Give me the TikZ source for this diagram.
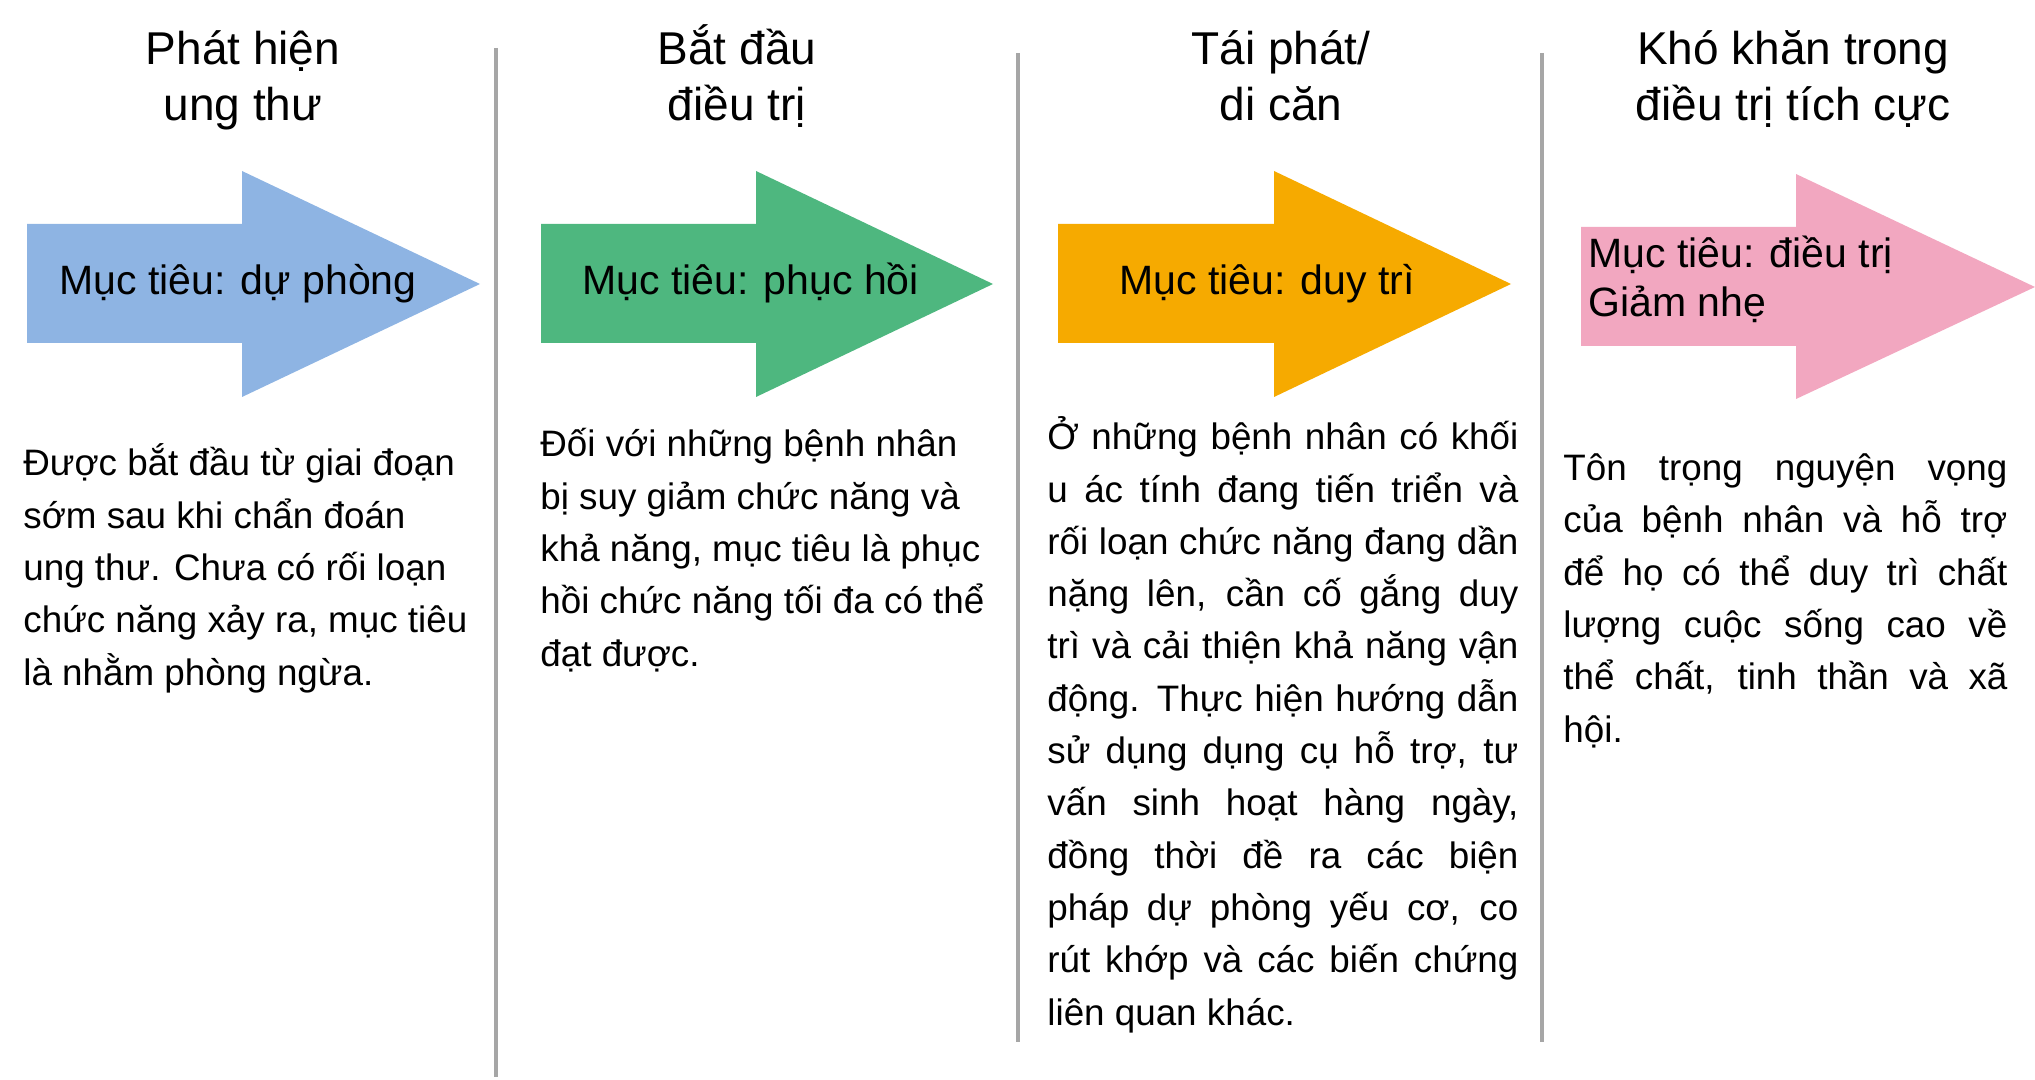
\documentclass[tikz,border=0pt]{standalone}
\usepackage{fontspec}
\setmainfont{Liberation Sans}
\definecolor{cblue}{RGB}{142,180,227}
\definecolor{cgreen}{RGB}{78,183,127}
\definecolor{corange}{RGB}{246,170,0}
\definecolor{cpink}{RGB}{242,167,192}
\definecolor{cdiv}{RGB}{166,166,166}
\newcommand\jl[2]{\makebox[#1][s]{#2}\\}
\tikzset{
  title/.style={anchor=base, align=center, inner sep=0pt, font=\fontsize{23}{28.3}\selectfont},
  goal/.style={anchor=base west, align=left, inner sep=0pt, font=\fontsize{20.5}{24.5}\selectfont},
  body/.style={anchor=base west, align=left, inner sep=0pt, font=\fontsize{18.4}{26.15}\selectfont},
  divider/.style={draw=cdiv, line width=2pt},
}
\begin{document}
\begin{tikzpicture}[x=0.5pt,y=-0.5pt]
\useasboundingbox (0,0) rectangle (2035,1080);
% dividers
\draw[divider] (496,48) -- (496,1077);
\draw[divider] (1018,53) -- (1018,1042);
\draw[divider] (1542,53) -- (1542,1042);
% titles (anchored at the baseline of their last line)
\node[title] (t1) at (243,121) {Phát hiện\\ung thư};
\node[title] (t2) at (737,121) {Bắt đầu\\điều trị};
\node[title] (t3) at (1281,121) {Tái phát/\\di căn};
\node[title] (t4) at (1793,121) {Khó khăn trong\\điều trị tích cực};
% arrows
\fill[cblue] (27,224)--(242,224)--(242,171)--(480,284)--(242,397)--(242,343)--(27,343)--cycle;
\fill[cgreen] (541,224)--(756,224)--(756,171)--(993,284)--(756,397)--(756,343)--(541,343)--cycle;
\fill[corange] (1058,224)--(1274,224)--(1274,171)--(1511,284)--(1274,397)--(1274,343)--(1058,343)--cycle;
\fill[cpink] (1581,227)--(1796,227)--(1796,174)--(2035,287)--(1796,399)--(1796,346)--(1581,346)--cycle;
\node[goal] (g1) at (59,295) {Mục tiêu: dự phòng};
\node[goal] (g2) at (582,295) {Mục tiêu: phục hồi};
\node[goal] (g3) at (1119,295) {Mục tiêu: duy trì};
\node[goal] (g4) at (1588,317) {Mục tiêu: điều trị\\Giảm nhẹ};
% body texts (anchored at the baseline of their last line)
\node[body] (b1) at (23,685) {Được bắt đầu từ giai đoạn\\sớm sau khi chẩn đoán\\ung thư. Chưa có rối loạn\\chức năng xảy ra, mục tiêu\\là nhằm phòng ngừa.};
\node[body] (b2) at (540,666) {Đối với những bệnh nhân\\bị suy giảm chức năng và\\khả năng, mục tiêu là phục\\hồi chức năng tối đa có thể\\đạt được.};
\node[body] (b3) at (1047,1025) {%
\jl{235.5pt}{Ở những bệnh nhân có khối}%
\jl{235.5pt}{u ác tính đang tiến triển và}%
\jl{235.5pt}{rối loạn chức năng đang dần}%
\jl{235.5pt}{nặng lên, cần cố gắng duy}%
\jl{235.5pt}{trì và cải thiện khả năng vận}%
\jl{235.5pt}{động. Thực hiện hướng dẫn}%
\jl{235.5pt}{sử dụng dụng cụ hỗ trợ, tư}%
\jl{235.5pt}{vấn sinh hoạt hàng ngày,}%
\jl{235.5pt}{đồng thời đề ra các biện}%
\jl{235.5pt}{pháp dự phòng yếu cơ, co}%
\jl{235.5pt}{rút khớp và các biến chứng}%
liên quan khác.};
\node[body] (b4) at (1563,742) {%
\jl{222pt}{Tôn trọng nguyện vọng}%
\jl{222pt}{của bệnh nhân và hỗ trợ}%
\jl{222pt}{để họ có thể duy trì chất}%
\jl{222pt}{lượng cuộc sống cao về}%
\jl{222pt}{thể chất, tinh thần và xã}%
hội.};
\end{tikzpicture}
\end{document}
